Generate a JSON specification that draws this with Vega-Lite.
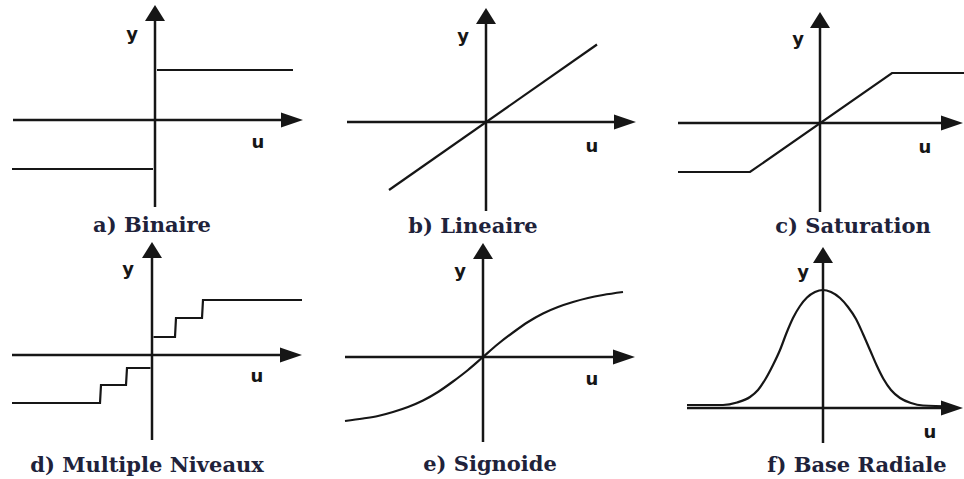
{
  "$schema": "https://vega.github.io/schema/vega-lite/v6.json",
  "padding": 0,
  "background": "white",
  "bounds": "flush",
  "spacing": 0,
  "columns": 3,
  "align": "each",
  "config": {
    "view": {"stroke": null},
    "concat": {"spacing": 0},
    "line": {"color": "#161616", "strokeWidth": 2.2, "interpolate": "monotone"},
    "rule": {"color": "#161616", "strokeWidth": 2.5}
  },
  "datasets": {
    "axes": [
      {"panel": "a", "u": 0, "y": -1.74, "u2": 0, "y2": 2.2},
      {"panel": "a", "u": -2.84, "y": 0, "u2": 2.8, "y2": 0},
      {"panel": "b", "u": 0, "y": -1.78, "u2": 0, "y2": 2.2},
      {"panel": "b", "u": -2.78, "y": 0, "u2": 2.85, "y2": 0},
      {"panel": "c", "u": 0, "y": -1.78, "u2": 0, "y2": 2.12},
      {"panel": "c", "u": -2.84, "y": 0, "u2": 2.7, "y2": 0},
      {"panel": "d", "u": 0, "y": -1.7, "u2": 0, "y2": 2.16},
      {"panel": "d", "u": -2.8, "y": 0, "u2": 2.85, "y2": 0},
      {"panel": "e", "u": 0, "y": -1.7, "u2": 0, "y2": 2.18},
      {"panel": "e", "u": -2.76, "y": 0, "u2": 2.9, "y2": 0},
      {"panel": "f", "u": 0, "y": -0.7, "u2": 0, "y2": 3.12},
      {"panel": "f", "u": -2.72, "y": 0, "u2": 2.65, "y2": 0}
    ],
    "arrows": [
      {"panel": "a", "dir": "up", "u": 0, "y": 2.3},
      {"panel": "a", "dir": "right", "u": 2.96, "y": 0},
      {"panel": "b", "dir": "up", "u": 0, "y": 2.28},
      {"panel": "b", "dir": "right", "u": 3.0, "y": 0},
      {"panel": "c", "dir": "up", "u": 0, "y": 2.22},
      {"panel": "c", "dir": "right", "u": 2.86, "y": 0},
      {"panel": "d", "dir": "up", "u": 0, "y": 2.26},
      {"panel": "d", "dir": "right", "u": 3.0, "y": 0},
      {"panel": "e", "dir": "up", "u": 0, "y": 2.28},
      {"panel": "e", "dir": "right", "u": 3.04, "y": 0},
      {"panel": "f", "dir": "up", "u": 0, "y": 3.22},
      {"panel": "f", "dir": "right", "u": 2.8, "y": 0}
    ],
    "curves": [
      {"panel": "a", "seg": 1, "i": 1, "u": -2.86, "y": -0.98},
      {"panel": "a", "seg": 1, "i": 2, "u": -0.04, "y": -0.98},
      {"panel": "a", "seg": 2, "i": 1, "u": 0.04, "y": 1.0},
      {"panel": "a", "seg": 2, "i": 2, "u": 2.76, "y": 1.0},

      {"panel": "b", "seg": 1, "i": 1, "u": -1.94, "y": -1.36},
      {"panel": "b", "seg": 1, "i": 2, "u": 2.22, "y": 1.55},

      {"panel": "c", "seg": 1, "i": 1, "u": -2.84, "y": -0.98},
      {"panel": "c", "seg": 1, "i": 2, "u": -1.4, "y": -0.98},
      {"panel": "c", "seg": 1, "i": 3, "u": 1.44, "y": 1.0},
      {"panel": "c", "seg": 1, "i": 4, "u": 2.88, "y": 1.0},

      {"panel": "d", "seg": 1, "i": 1, "u": -2.8, "y": -0.96},
      {"panel": "d", "seg": 1, "i": 2, "u": -1.04, "y": -0.96},
      {"panel": "d", "seg": 1, "i": 3, "u": -1.02, "y": -0.6},
      {"panel": "d", "seg": 1, "i": 4, "u": -0.52, "y": -0.6},
      {"panel": "d", "seg": 1, "i": 5, "u": -0.5, "y": -0.26},
      {"panel": "d", "seg": 1, "i": 6, "u": -0.03, "y": -0.26},
      {"panel": "d", "seg": 2, "i": 1, "u": 0.03, "y": 0.36},
      {"panel": "d", "seg": 2, "i": 2, "u": 0.46, "y": 0.36},
      {"panel": "d", "seg": 2, "i": 3, "u": 0.48, "y": 0.74},
      {"panel": "d", "seg": 2, "i": 4, "u": 1.0, "y": 0.74},
      {"panel": "d", "seg": 2, "i": 5, "u": 1.02, "y": 1.1},
      {"panel": "d", "seg": 2, "i": 6, "u": 3.0, "y": 1.1},

      {"panel": "e", "seg": 1, "i": 1, "u": -2.76, "y": -1.28},
      {"panel": "e", "seg": 1, "i": 2, "u": -2.4, "y": -1.23},
      {"panel": "e", "seg": 1, "i": 3, "u": -2.1, "y": -1.18},
      {"panel": "e", "seg": 1, "i": 4, "u": -1.8, "y": -1.1},
      {"panel": "e", "seg": 1, "i": 5, "u": -1.5, "y": -1.0},
      {"panel": "e", "seg": 1, "i": 6, "u": -1.2, "y": -0.87},
      {"panel": "e", "seg": 1, "i": 7, "u": -0.9, "y": -0.7},
      {"panel": "e", "seg": 1, "i": 8, "u": -0.6, "y": -0.49},
      {"panel": "e", "seg": 1, "i": 9, "u": -0.3, "y": -0.26},
      {"panel": "e", "seg": 1, "i": 10, "u": 0, "y": 0},
      {"panel": "e", "seg": 1, "i": 11, "u": 0.3, "y": 0.26},
      {"panel": "e", "seg": 1, "i": 12, "u": 0.6, "y": 0.49},
      {"panel": "e", "seg": 1, "i": 13, "u": 0.9, "y": 0.7},
      {"panel": "e", "seg": 1, "i": 14, "u": 1.2, "y": 0.87},
      {"panel": "e", "seg": 1, "i": 15, "u": 1.5, "y": 1.0},
      {"panel": "e", "seg": 1, "i": 16, "u": 1.8, "y": 1.1},
      {"panel": "e", "seg": 1, "i": 17, "u": 2.1, "y": 1.18},
      {"panel": "e", "seg": 1, "i": 18, "u": 2.4, "y": 1.24},
      {"panel": "e", "seg": 1, "i": 19, "u": 2.8, "y": 1.3},

      {"panel": "f", "seg": 1, "i": 1, "u": -2.72, "y": 0.06},
      {"panel": "f", "seg": 1, "i": 2, "u": -2.0, "y": 0.06},
      {"panel": "f", "seg": 1, "i": 3, "u": -1.72, "y": 0.11},
      {"panel": "f", "seg": 1, "i": 4, "u": -1.46, "y": 0.22},
      {"panel": "f", "seg": 1, "i": 5, "u": -1.3, "y": 0.36},
      {"panel": "f", "seg": 1, "i": 6, "u": -1.15, "y": 0.58},
      {"panel": "f", "seg": 1, "i": 7, "u": -1.0, "y": 0.86},
      {"panel": "f", "seg": 1, "i": 8, "u": -0.86, "y": 1.16},
      {"panel": "f", "seg": 1, "i": 9, "u": -0.73, "y": 1.5},
      {"panel": "f", "seg": 1, "i": 10, "u": -0.6, "y": 1.8},
      {"panel": "f", "seg": 1, "i": 11, "u": -0.46, "y": 2.04},
      {"panel": "f", "seg": 1, "i": 12, "u": -0.32, "y": 2.21},
      {"panel": "f", "seg": 1, "i": 13, "u": -0.16, "y": 2.32},
      {"panel": "f", "seg": 1, "i": 14, "u": 0, "y": 2.36},
      {"panel": "f", "seg": 1, "i": 15, "u": 0.16, "y": 2.32},
      {"panel": "f", "seg": 1, "i": 16, "u": 0.34, "y": 2.2},
      {"panel": "f", "seg": 1, "i": 17, "u": 0.5, "y": 2.02},
      {"panel": "f", "seg": 1, "i": 18, "u": 0.66, "y": 1.78},
      {"panel": "f", "seg": 1, "i": 19, "u": 0.8, "y": 1.48},
      {"panel": "f", "seg": 1, "i": 20, "u": 0.94, "y": 1.16},
      {"panel": "f", "seg": 1, "i": 21, "u": 1.07, "y": 0.86},
      {"panel": "f", "seg": 1, "i": 22, "u": 1.21, "y": 0.58},
      {"panel": "f", "seg": 1, "i": 23, "u": 1.36, "y": 0.36},
      {"panel": "f", "seg": 1, "i": 24, "u": 1.54, "y": 0.2},
      {"panel": "f", "seg": 1, "i": 25, "u": 1.76, "y": 0.1},
      {"panel": "f", "seg": 1, "i": 26, "u": 2.0, "y": 0.05},
      {"panel": "f", "seg": 1, "i": 27, "u": 2.6, "y": 0.03}
    ],
    "labels": [
      {"panel": "a", "kind": "axis", "text": "y", "u": -0.46, "y": 1.7},
      {"panel": "a", "kind": "axis", "text": "u", "u": 2.06, "y": -0.46},
      {"panel": "a", "kind": "caption", "text": "a) Binaire", "u": -0.06, "y": -2.12},
      {"panel": "b", "kind": "axis", "text": "y", "u": -0.46, "y": 1.7},
      {"panel": "b", "kind": "axis", "text": "u", "u": 2.12, "y": -0.5},
      {"panel": "b", "kind": "caption", "text": "b) Lineaire", "u": -0.26, "y": -2.1},
      {"panel": "c", "kind": "axis", "text": "y", "u": -0.44, "y": 1.66},
      {"panel": "c", "kind": "axis", "text": "u", "u": 2.1, "y": -0.5},
      {"panel": "c", "kind": "caption", "text": "c) Saturation", "u": 0.66, "y": -2.08},
      {"panel": "d", "kind": "axis", "text": "y", "u": -0.48, "y": 1.7},
      {"panel": "d", "kind": "axis", "text": "u", "u": 2.1, "y": -0.44},
      {"panel": "d", "kind": "caption", "text": "d) Multiple Niveaux", "u": -0.1, "y": -2.22},
      {"panel": "e", "kind": "axis", "text": "y", "u": -0.46, "y": 1.7},
      {"panel": "e", "kind": "axis", "text": "u", "u": 2.18, "y": -0.46},
      {"panel": "e", "kind": "caption", "text": "e) Signoide", "u": 0.14, "y": -2.16},
      {"panel": "f", "kind": "axis", "text": "y", "u": -0.4, "y": 2.7},
      {"panel": "f", "kind": "axis", "text": "u", "u": 2.14, "y": -0.5},
      {"panel": "f", "kind": "caption", "text": "f) Base Radiale", "u": 0.68, "y": -1.16}
    ]
  },
  "concat": [
    {
      "width": 320, "height": 240,
      "encoding": {
        "x": {"field": "u", "type": "quantitative", "axis": null, "scale": {"domain": [-3.1, 3.3], "nice": false, "zero": false}},
        "y": {"field": "y", "type": "quantitative", "axis": null, "scale": {"domain": [-2.4, 2.4], "nice": false, "zero": false}}
      },
      "layer": [
        {"data": {"name": "axes"}, "transform": [{"filter": {"field": "panel", "equal": "a"}}], "mark": {"type": "rule"}, "encoding": {"x2": {"field": "u2"}, "y2": {"field": "y2"}}},
        {"data": {"name": "curves"}, "transform": [{"filter": {"field": "panel", "equal": "a"}}], "mark": {"type": "line", "interpolate": "linear"}, "encoding": {"detail": {"field": "seg", "type": "nominal"}, "order": {"field": "i", "type": "quantitative"}}},
        {"data": {"name": "arrows"}, "transform": [{"filter": {"field": "panel", "equal": "a"}}], "mark": {"type": "point", "filled": true, "size": 100, "opacity": 1, "color": "#161616"}, "encoding": {"shape": {"field": "dir", "type": "nominal", "legend": null, "scale": {"domain": ["up", "right"], "range": ["M0,0L-2,3.2L2,3.2Z", "M0,0L-4.4,-1.5L-4.4,1.5Z"]}}}},
        {"data": {"name": "labels"}, "transform": [{"filter": {"field": "panel", "equal": "a"}}, {"filter": {"field": "kind", "equal": "axis"}}], "mark": {"type": "text", "font": "DejaVu Sans", "fontWeight": "bold", "fontSize": 18, "color": "#161616", "baseline": "middle", "align": "center"}, "encoding": {"text": {"field": "text"}}},
        {"data": {"name": "labels"}, "transform": [{"filter": {"field": "panel", "equal": "a"}}, {"filter": {"field": "kind", "equal": "caption"}}], "mark": {"type": "text", "font": "DejaVu Serif", "fontWeight": "bold", "fontSize": 21, "color": "#20223a", "baseline": "middle", "align": "center"}, "encoding": {"text": {"field": "text"}}}
      ]
    },
    {
      "width": 320, "height": 240,
      "encoding": {
        "x": {"field": "u", "type": "quantitative", "axis": null, "scale": {"domain": [-3.32, 3.08], "nice": false, "zero": false}},
        "y": {"field": "y", "type": "quantitative", "axis": null, "scale": {"domain": [-2.36, 2.44], "nice": false, "zero": false}}
      },
      "layer": [
        {"data": {"name": "axes"}, "transform": [{"filter": {"field": "panel", "equal": "b"}}], "mark": {"type": "rule"}, "encoding": {"x2": {"field": "u2"}, "y2": {"field": "y2"}}},
        {"data": {"name": "curves"}, "transform": [{"filter": {"field": "panel", "equal": "b"}}], "mark": {"type": "line", "interpolate": "linear"}, "encoding": {"detail": {"field": "seg", "type": "nominal"}, "order": {"field": "i", "type": "quantitative"}}},
        {"data": {"name": "arrows"}, "transform": [{"filter": {"field": "panel", "equal": "b"}}], "mark": {"type": "point", "filled": true, "size": 100, "opacity": 1, "color": "#161616"}, "encoding": {"shape": {"field": "dir", "type": "nominal", "legend": null, "scale": {"domain": ["up", "right"], "range": ["M0,0L-2,3.2L2,3.2Z", "M0,0L-4.4,-1.5L-4.4,1.5Z"]}}}},
        {"data": {"name": "labels"}, "transform": [{"filter": {"field": "panel", "equal": "b"}}, {"filter": {"field": "kind", "equal": "axis"}}], "mark": {"type": "text", "font": "DejaVu Sans", "fontWeight": "bold", "fontSize": 18, "color": "#161616", "baseline": "middle", "align": "center"}, "encoding": {"text": {"field": "text"}}},
        {"data": {"name": "labels"}, "transform": [{"filter": {"field": "panel", "equal": "b"}}, {"filter": {"field": "kind", "equal": "caption"}}], "mark": {"type": "text", "font": "DejaVu Serif", "fontWeight": "bold", "fontSize": 21, "color": "#20223a", "baseline": "middle", "align": "center"}, "encoding": {"text": {"field": "text"}}}
      ]
    },
    {
      "width": 324, "height": 240,
      "encoding": {
        "x": {"field": "u", "type": "quantitative", "axis": null, "scale": {"domain": [-3.6, 2.88], "nice": false, "zero": false}},
        "y": {"field": "y", "type": "quantitative", "axis": null, "scale": {"domain": [-2.34, 2.46], "nice": false, "zero": false}}
      },
      "layer": [
        {"data": {"name": "axes"}, "transform": [{"filter": {"field": "panel", "equal": "c"}}], "mark": {"type": "rule"}, "encoding": {"x2": {"field": "u2"}, "y2": {"field": "y2"}}},
        {"data": {"name": "curves"}, "transform": [{"filter": {"field": "panel", "equal": "c"}}], "mark": {"type": "line", "interpolate": "linear"}, "encoding": {"detail": {"field": "seg", "type": "nominal"}, "order": {"field": "i", "type": "quantitative"}}},
        {"data": {"name": "arrows"}, "transform": [{"filter": {"field": "panel", "equal": "c"}}], "mark": {"type": "point", "filled": true, "size": 100, "opacity": 1, "color": "#161616"}, "encoding": {"shape": {"field": "dir", "type": "nominal", "legend": null, "scale": {"domain": ["up", "right"], "range": ["M0,0L-2,3.2L2,3.2Z", "M0,0L-4.4,-1.5L-4.4,1.5Z"]}}}},
        {"data": {"name": "labels"}, "transform": [{"filter": {"field": "panel", "equal": "c"}}, {"filter": {"field": "kind", "equal": "axis"}}], "mark": {"type": "text", "font": "DejaVu Sans", "fontWeight": "bold", "fontSize": 18, "color": "#161616", "baseline": "middle", "align": "center"}, "encoding": {"text": {"field": "text"}}},
        {"data": {"name": "labels"}, "transform": [{"filter": {"field": "panel", "equal": "c"}}, {"filter": {"field": "kind", "equal": "caption"}}], "mark": {"type": "text", "font": "DejaVu Serif", "fontWeight": "bold", "fontSize": 21, "color": "#20223a", "baseline": "middle", "align": "center"}, "encoding": {"text": {"field": "text"}}}
      ]
    },
    {
      "width": 320, "height": 239,
      "encoding": {
        "x": {"field": "u", "type": "quantitative", "axis": null, "scale": {"domain": [-3.04, 3.36], "nice": false, "zero": false}},
        "y": {"field": "y", "type": "quantitative", "axis": null, "scale": {"domain": [-2.48, 2.3], "nice": false, "zero": false}}
      },
      "layer": [
        {"data": {"name": "axes"}, "transform": [{"filter": {"field": "panel", "equal": "d"}}], "mark": {"type": "rule"}, "encoding": {"x2": {"field": "u2"}, "y2": {"field": "y2"}}},
        {"data": {"name": "curves"}, "transform": [{"filter": {"field": "panel", "equal": "d"}}], "mark": {"type": "line", "interpolate": "linear"}, "encoding": {"detail": {"field": "seg", "type": "nominal"}, "order": {"field": "i", "type": "quantitative"}}},
        {"data": {"name": "arrows"}, "transform": [{"filter": {"field": "panel", "equal": "d"}}], "mark": {"type": "point", "filled": true, "size": 100, "opacity": 1, "color": "#161616"}, "encoding": {"shape": {"field": "dir", "type": "nominal", "legend": null, "scale": {"domain": ["up", "right"], "range": ["M0,0L-2,3.2L2,3.2Z", "M0,0L-4.4,-1.5L-4.4,1.5Z"]}}}},
        {"data": {"name": "labels"}, "transform": [{"filter": {"field": "panel", "equal": "d"}}, {"filter": {"field": "kind", "equal": "axis"}}], "mark": {"type": "text", "font": "DejaVu Sans", "fontWeight": "bold", "fontSize": 18, "color": "#161616", "baseline": "middle", "align": "center"}, "encoding": {"text": {"field": "text"}}},
        {"data": {"name": "labels"}, "transform": [{"filter": {"field": "panel", "equal": "d"}}, {"filter": {"field": "kind", "equal": "caption"}}], "mark": {"type": "text", "font": "DejaVu Serif", "fontWeight": "bold", "fontSize": 21, "color": "#20223a", "baseline": "middle", "align": "center"}, "encoding": {"text": {"field": "text"}}}
      ]
    },
    {
      "width": 320, "height": 239,
      "encoding": {
        "x": {"field": "u", "type": "quantitative", "axis": null, "scale": {"domain": [-3.26, 3.14], "nice": false, "zero": false}},
        "y": {"field": "y", "type": "quantitative", "axis": null, "scale": {"domain": [-2.44, 2.34], "nice": false, "zero": false}}
      },
      "layer": [
        {"data": {"name": "axes"}, "transform": [{"filter": {"field": "panel", "equal": "e"}}], "mark": {"type": "rule"}, "encoding": {"x2": {"field": "u2"}, "y2": {"field": "y2"}}},
        {"data": {"name": "curves"}, "transform": [{"filter": {"field": "panel", "equal": "e"}}], "mark": {"type": "line"}, "encoding": {"detail": {"field": "seg", "type": "nominal"}, "order": {"field": "i", "type": "quantitative"}}},
        {"data": {"name": "arrows"}, "transform": [{"filter": {"field": "panel", "equal": "e"}}], "mark": {"type": "point", "filled": true, "size": 100, "opacity": 1, "color": "#161616"}, "encoding": {"shape": {"field": "dir", "type": "nominal", "legend": null, "scale": {"domain": ["up", "right"], "range": ["M0,0L-2,3.2L2,3.2Z", "M0,0L-4.4,-1.5L-4.4,1.5Z"]}}}},
        {"data": {"name": "labels"}, "transform": [{"filter": {"field": "panel", "equal": "e"}}, {"filter": {"field": "kind", "equal": "axis"}}], "mark": {"type": "text", "font": "DejaVu Sans", "fontWeight": "bold", "fontSize": 18, "color": "#161616", "baseline": "middle", "align": "center"}, "encoding": {"text": {"field": "text"}}},
        {"data": {"name": "labels"}, "transform": [{"filter": {"field": "panel", "equal": "e"}}, {"filter": {"field": "kind", "equal": "caption"}}], "mark": {"type": "text", "font": "DejaVu Serif", "fontWeight": "bold", "fontSize": 21, "color": "#20223a", "baseline": "middle", "align": "center"}, "encoding": {"text": {"field": "text"}}}
      ]
    },
    {
      "width": 324, "height": 239,
      "encoding": {
        "x": {"field": "u", "type": "quantitative", "axis": null, "scale": {"domain": [-3.66, 2.82], "nice": false, "zero": false}},
        "y": {"field": "y", "type": "quantitative", "axis": null, "scale": {"domain": [-1.42, 3.36], "nice": false, "zero": false}}
      },
      "layer": [
        {"data": {"name": "axes"}, "transform": [{"filter": {"field": "panel", "equal": "f"}}], "mark": {"type": "rule"}, "encoding": {"x2": {"field": "u2"}, "y2": {"field": "y2"}}},
        {"data": {"name": "curves"}, "transform": [{"filter": {"field": "panel", "equal": "f"}}], "mark": {"type": "line"}, "encoding": {"detail": {"field": "seg", "type": "nominal"}, "order": {"field": "i", "type": "quantitative"}}},
        {"data": {"name": "arrows"}, "transform": [{"filter": {"field": "panel", "equal": "f"}}], "mark": {"type": "point", "filled": true, "size": 100, "opacity": 1, "color": "#161616"}, "encoding": {"shape": {"field": "dir", "type": "nominal", "legend": null, "scale": {"domain": ["up", "right"], "range": ["M0,0L-2,3.2L2,3.2Z", "M0,0L-4.4,-1.5L-4.4,1.5Z"]}}}},
        {"data": {"name": "labels"}, "transform": [{"filter": {"field": "panel", "equal": "f"}}, {"filter": {"field": "kind", "equal": "axis"}}], "mark": {"type": "text", "font": "DejaVu Sans", "fontWeight": "bold", "fontSize": 18, "color": "#161616", "baseline": "middle", "align": "center"}, "encoding": {"text": {"field": "text"}}},
        {"data": {"name": "labels"}, "transform": [{"filter": {"field": "panel", "equal": "f"}}, {"filter": {"field": "kind", "equal": "caption"}}], "mark": {"type": "text", "font": "DejaVu Serif", "fontWeight": "bold", "fontSize": 21, "color": "#20223a", "baseline": "middle", "align": "center"}, "encoding": {"text": {"field": "text"}}}
      ]
    }
  ]
}
